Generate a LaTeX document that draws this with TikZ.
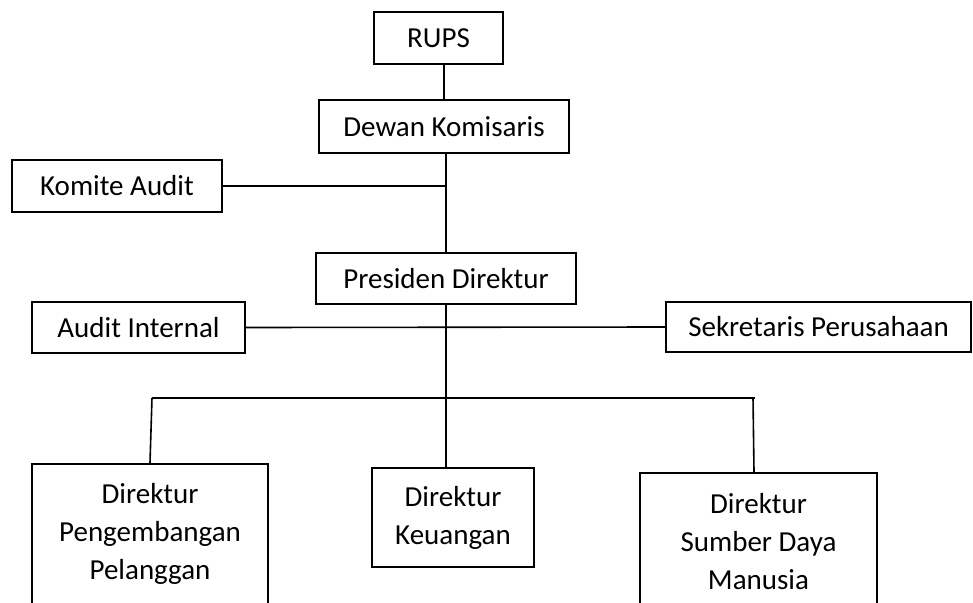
\documentclass[tikz,border=0pt]{standalone}
\usepackage{fontspec}
\setmainfont{Carlito}
\begin{document}
\begin{tikzpicture}[x=1pt,y=-1pt,
  box/.style={draw,line width=2.4pt,inner sep=0pt,align=center,
    font=\fontsize{29}{38}\selectfont},
  conn/.style={line width=1.6pt}]
\useasboundingbox (0,0) rectangle (973,602);
\node[box,minimum width=129,minimum height=52] (rups) at (438.5,38) {RUPS};
\node[box,minimum width=250,minimum height=53] (dewan) at (444,126.5) {Dewan Komisaris};
\node[box,minimum width=210,minimum height=52] (komite) at (117,186) {Komite Audit};
\node[box,minimum width=260,minimum height=51] (presiden) at (446,278.5) {Presiden Direktur};
\node[box,minimum width=213,minimum height=51] (ai) at (138.5,327.5) {Audit Internal};
\node[box,minimum width=305,minimum height=50] (sek) at (818.5,327) {Sekretaris Perusahaan};
\node[box,minimum width=236,minimum height=140] (peng) at (150,534) {Direktur\\Pengembangan\\Pelanggan};
\node[box,minimum width=162,minimum height=99] (keu) at (453,517.5) {Direktur\\Keuangan};
\node[box,minimum width=237,minimum height=138] (sdm) at (758.5,542) {Direktur\\Sumber Daya\\Manusia};
\coordinate (busL) at (152,398);
\coordinate (busR) at (755,398);
\draw[conn] (rups.south -| dewan.north) -- (dewan.north);
\draw[conn] (dewan.south -| presiden.north) -- (presiden.north);
\draw[conn] (komite.east) -- (komite.east -| presiden.north);
\draw[conn] (ai.east) -- (sek.west);
\draw[conn] (presiden.south) -- (presiden.south |- keu.north);
\draw[conn] (busL) -- (busR);
\draw[conn] (busL) -- (peng.north);
\draw[conn] ([xshift=-2]busR) -- ([xshift=-4.5]sdm.north);
\end{tikzpicture}
\end{document}
